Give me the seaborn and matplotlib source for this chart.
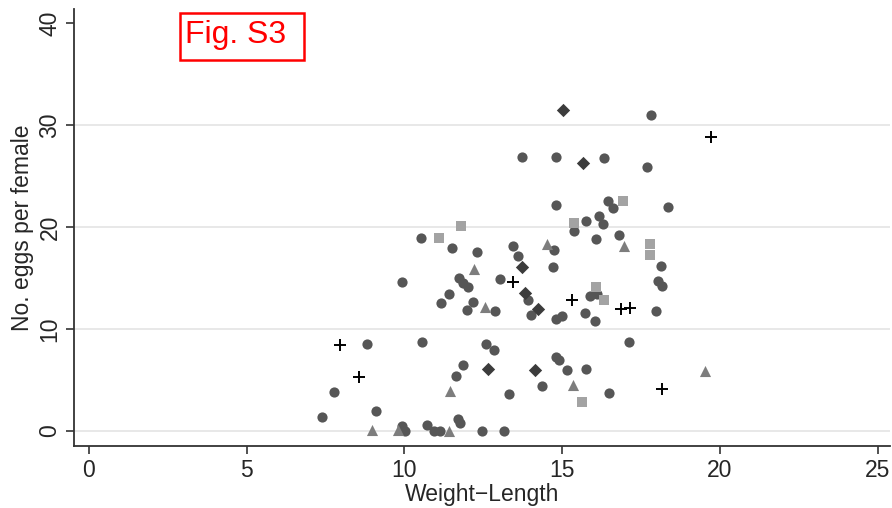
import pandas as pd
import seaborn as sns
import matplotlib.pyplot as plt
import numpy as np
from matplotlib.patches import Rectangle

# points, one pair of lists per marker group
circle_x = [11.52, 10.53, 12.31, 13.44, 14.75, 13.59, 14.72, 9.92, 11.73, 11.85, 12.03, 13.02,
            13.91, 14.0, 14.80, 15.0, 11.4, 11.15, 12.16, 11.97, 12.88, 8.81, 10.57, 12.59,
            12.83, 14.82, 14.9, 11.87, 11.65, 14.37, 7.77, 13.31, 9.1, 7.39, 10.71, 11.69,
            11.75, 9.92, 10.02, 10.94, 11.12, 12.46, 13.15, 14.82, 17.82, 13.74, 14.8, 16.32,
            17.7, 16.47, 16.61, 18.36, 15.76, 16.17, 16.29, 15.38, 16.07, 16.8, 18.13, 18.05,
            18.17, 15.87, 16.12, 15.74, 16.05, 17.98, 17.13, 15.17, 15.75, 16.49]
circle_y = [18.0, 18.9, 17.6, 18.2, 17.8, 17.2, 16.1, 14.6, 14.97, 14.5, 14.1, 14.9,
            12.85, 11.4, 10.95, 11.27, 13.4, 12.6, 12.65, 11.83, 11.8, 8.53, 8.76, 8.53,
            7.97, 7.3, 7.0, 6.5, 5.36, 4.38, 3.86, 3.63, 1.99, 1.34, 0.6, 1.18,
            0.82, 0.5, 0.0, 0.0, 0.0, 0.0, 0.0, 22.15, 31.0, 26.9, 26.9, 26.8,
            25.9, 22.6, 21.9, 22.0, 20.66, 21.1, 20.3, 19.6, 18.85, 19.2, 16.2, 14.7,
            14.2, 13.3, 13.4, 11.6, 10.8, 11.76, 8.76, 5.98, 6.1, 3.72]

diamond_x = [15.02, 15.65, 13.73, 13.82, 14.24, 12.65, 14.13]
diamond_y = [31.5, 26.3, 16.1, 13.5, 11.96, 6.08, 5.95]

triangle_x = [14.53, 12.22, 12.55, 11.45, 8.97, 9.8, 11.42, 16.96, 15.34, 19.53]
triangle_y = [18.4, 15.95, 12.16, 3.95, 0.1, 0.15, 0.05, 18.2, 4.5, 5.9]

square_x = [11.79, 11.11, 15.38, 16.93, 17.8, 17.8, 16.08, 16.34, 15.63]
square_y = [20.1, 18.95, 20.4, 22.6, 18.4, 17.3, 14.1, 12.9, 2.88]

plus_x = [7.95, 8.55, 13.44, 15.3, 16.86, 17.16, 19.72, 18.17]
plus_y = [8.43, 5.33, 14.6, 12.9, 12.0, 12.1, 28.9, 4.1]

y_ticks = [0, 10, 20, 30, 40]
x_ticks = [0, 5, 10, 15, 20, 25]

sns.set_style("white")
plt.rcParams['font.family'] = ['Liberation Sans', 'DejaVu Sans']

fig = plt.figure(figsize=(8.92, 5.08), dpi=100)
ax = fig.add_axes([0.083, 0.122, 0.915, 0.860])

groups = [
    (circle_x, circle_y, "o", "#565656", 54),
    (triangle_x, triangle_y, "^", "#7d7d7d", 64),
    (square_x, square_y, "s", "#a3a3a3", 48),
    (diamond_x, diamond_y, "D", "#3c3c3c", 46),
]
for gx, gy, mk, col, size in groups:
    sns.scatterplot(x=gx, y=gy, marker=mk, color=col, s=size, linewidth=0, ax=ax, zorder=3)

sns.scatterplot(x=plus_x, y=plus_y, marker="+", color="black", s=85, linewidth=1.4, ax=ax, zorder=4)

ax.set_xlim(-0.47, 25.4)
ax.set_ylim(-1.47, 41.4)
ax.set_xticks(x_ticks)
ax.set_yticks(y_ticks)
ax.tick_params(axis="both", direction="out", length=6, width=1.2, color="#333333",
               labelsize=16.5, pad=3, left=True, bottom=True)
for lab in ax.get_yticklabels():
    lab.set_rotation(90)
    lab.set_va("center")

ax.grid(axis="y", color="#e6e6e6", linewidth=1.3)
ax.grid(axis="x", visible=False)
ax.get_ygridlines()[-1].set_visible(False)
ax.set_axisbelow(True)

sns.despine(ax=ax)
for side in ["left", "bottom"]:
    ax.spines[side].set_color("#333333")
    ax.spines[side].set_linewidth(1.3)

ax.set_xlabel("Weight\u2212Length", fontsize=16.5, labelpad=1)
ax.set_ylabel("No. eggs per female", fontsize=16.5, labelpad=3)

# red "Fig. S3" tag in the top left
fig.patches.append(Rectangle((0.2018, 0.882), 0.139, 0.0925, transform=fig.transFigure,
                             facecolor="white", edgecolor="red", linewidth=1.8, zorder=5))
fig.text(0.2074, 0.9154, "Fig. S3", color="red", fontsize=23, ha="left", va="baseline", zorder=6)

fig.savefig("out.png", dpi=100)
